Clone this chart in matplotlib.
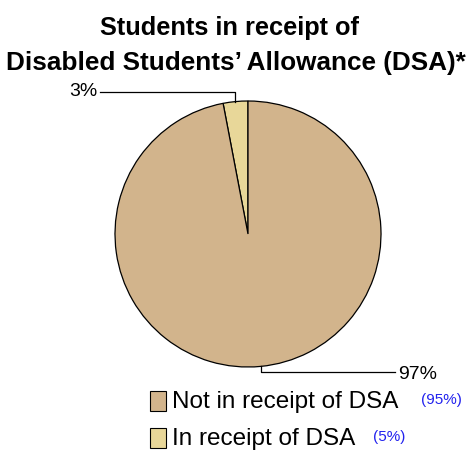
import matplotlib
matplotlib.use("Agg")
import matplotlib.pyplot as plt
import numpy as np
from matplotlib.patches import Rectangle

title_lines = ["Students in receipt of", "Disabled Students\u2019 Allowance (DSA)*"]
labels = ["In receipt of DSA", "Not in receipt of DSA"]
values = [3, 97]
pct_labels = ["3%", "97%"]
comparison = ["(5%)", "(95%)"]
colors = ["#E8D799", "#D2B48C"]

W, H = 468, 455
plt.rcParams['font.family'] = ['Liberation Sans', 'DejaVu Sans']
fig = plt.figure(figsize=(W / 100, H / 100), dpi=100)

def fx(x):
    return x / W

def fy(y):
    return 1 - y / H

cx, cy, r = 248, 234, 133
ax = fig.add_axes([fx(cx - r), fy(cy + r), 2 * r / W, 2 * r / H])
wedges, _ = ax.pie(values, colors=colors, startangle=90, counterclock=True,
                   wedgeprops=dict(edgecolor="black", linewidth=0.9))
ax.set_xlim(-1, 1)
ax.set_ylim(-1, 1)
ax.set_aspect("equal")
ax.axis("off")

# leader lines
for w, lab in zip(wedges, pct_labels):
    ang = np.deg2rad((w.theta1 + w.theta2) / 2)
    x0, y0 = np.cos(ang), np.sin(ang)
    if y0 > 0:
        y1 = (cy - 92) / r
        x2 = (100 - cx) / r
        ax.plot([x0, x0, x2], [y0, y1, y1], color="black", lw=0.9, clip_on=False)
        ax.text(x2 - 0.02, y1, lab, ha="right", va="center", fontsize=14, clip_on=False)
    else:
        y1 = (cy - 372) / r
        x2 = (395 - cx) / r
        ax.plot([x0, x0, x2], [y0, y1, y1], color="black", lw=0.9, clip_on=False)
        ax.text(x2 + 0.02, y1 - 0.02, lab, ha="left", va="center", fontsize=14, clip_on=False)

# title
fig.text(fx(229), fy(28), title_lines[0], ha="center", va="center",
         fontsize=18.3, fontweight="bold")
fig.text(fx(236), fy(63), title_lines[1], ha="center", va="center",
         fontsize=18.8, fontweight="bold")

# legend (custom)
leg_rows = [(labels[1], comparison[1], colors[1], 401, 421),
            (labels[0], comparison[0], colors[0], 438, 373)]
for lab, comp, col, yc, comp_x in leg_rows:
    fig.patches.append(Rectangle((fx(150), fy(yc + 10)), 16 / W, 20 / H,
                                 transform=fig.transFigure, facecolor=col,
                                 edgecolor="black", linewidth=0.8))
    fig.text(fx(172), fy(yc + 1), lab, ha="left", va="center", fontsize=17.5)
    fig.text(fx(comp_x), fy(yc - 1), comp, ha="left", va="center",
             fontsize=11, color="#2222EE")

fig.savefig("out.png", dpi=100)
